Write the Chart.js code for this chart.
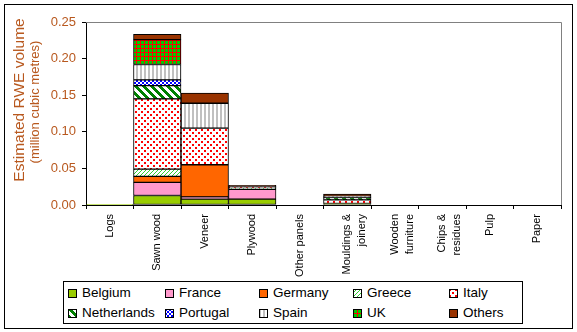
<!DOCTYPE html>
<html>
<head>
<meta charset="utf-8">
<script src="https://cdn.jsdelivr.net/npm/chart.js@4/dist/chart.umd.min.js"></script>
<style>
  html,body{margin:0;padding:0;background:#fff;}
  #wrap{position:relative;width:577px;height:332px;overflow:hidden;font-family:"Liberation Sans",Arial,sans-serif;}
  #c{position:absolute;left:0;top:0;}
  #frame{position:absolute;left:4px;top:4px;width:567px;height:323px;border:1px solid #000;pointer-events:none;}
  #legend{position:absolute;left:63px;top:281px;width:458px;height:41px;border:1px solid #000;background:#fff;}
  .li{position:absolute;font-size:13.5px;color:#000;line-height:16px;white-space:nowrap;}
  .li canvas{position:absolute;left:0;top:4px;}
  .li span{position:absolute;left:14px;top:0;}
</style>
</head>
<body>
<div id="wrap">
  <canvas id="c" width="577" height="332"></canvas>
  <div id="frame"></div>
  <div id="legend"></div>
</div>
<script>
const categories = ['Logs','Sawn wood','Veneer','Plywood','Other panels',['Mouldings &','joinery'],['Wooden','furniture'],['Chips &','residues'],'Pulp','Paper'];
const seriesNames = ['Belgium','France','Germany','Greece','Italy','Netherlands','Portugal','Spain','UK','Others'];
const belgium     = [0.001, 0.013, 0.008, 0.008,  0, 0.002, 0, 0, 0, 0];
const france      = [0,     0.018, 0.003, 0.0135, 0, 0,     0, 0, 0, 0];
const germany     = [0,     0.008, 0.044, 0,      0, 0,     0, 0, 0, 0];
const greece      = [0,     0.010, 0,     0.0015, 0, 0,     0, 0, 0, 0];
const italy       = [0,     0.096, 0.050, 0.001,  0, 0.005, 0, 0, 0, 0];
const netherlands = [0,     0.018, 0,     0,      0, 0.003, 0, 0, 0, 0];
const portugal    = [0,     0.008, 0,     0,      0, 0,     0, 0, 0, 0];
const spain       = [0,     0.021, 0.034, 0.001,  0, 0.002, 0, 0, 0, 0];
const uk          = [0,     0.034, 0,     0,      0, 0,     0, 0, 0, 0];
const others      = [0,     0.007, 0.014, 0.002,  0, 0.003, 0, 0, 0, 0];
const yTicks = [0, 0.05, 0.10, 0.15, 0.20, 0.25];

const seriesValues = [belgium, france, germany, greece, italy, netherlands, portugal, spain, uk, others];

function mk(w,h,draw){
  const c=document.createElement('canvas');c.width=w;c.height=h;
  const x=c.getContext('2d');draw(x);
  return x.createPattern(c,'repeat');
}
function fills(){
  return [
    '#99CC00',
    '#FF99CC',
    '#FF6600',
    mk(4,4,x=>{x.fillStyle='#fff';x.fillRect(0,0,4,4);x.fillStyle='#33CC33';
      for(let i=0;i<4;i++){x.fillRect(3-i,i,1,1);} }),
    mk(6,6,x=>{x.fillStyle='#fff';x.fillRect(0,0,6,6);x.fillStyle='#FF0000';
      x.fillRect(0,0,2,2);x.fillRect(3,3,2,2);}),
    mk(8,8,x=>{x.fillStyle='#fff';x.fillRect(0,0,8,8);x.fillStyle='#008000';
      for(let i=0;i<8;i++){for(let k=0;k<4;k++){x.fillRect((i+k)%8,i,1,1);}} }),
    mk(4,4,x=>{x.fillStyle='#fff';x.fillRect(0,0,4,4);x.fillStyle='#0000FF';
      x.fillRect(0,0,2,2);x.fillRect(2,2,2,2);}),
    mk(4,4,x=>{x.fillStyle='#fff';x.fillRect(0,0,4,4);x.fillStyle='#C0C0C0';
      x.fillRect(0,0,2,4);}),
    mk(4,4,x=>{x.fillStyle='#00CC00';x.fillRect(0,0,4,4);x.fillStyle='#FF0000';
      x.fillRect(0,0,4,1);x.fillRect(0,0,1,4);}),
    '#993300'
  ];
}
const F = fills();

const datasets = seriesNames.map((n,i)=>({
  label:n,
  data: seriesValues[i].map(v=>v===0?null:v),
  backgroundColor:F[i],
  borderColor:'#000',
  borderWidth:1,
  borderSkipped:false,
  barPercentage:1,
  categoryPercentage:1
}));

const txtColor='#B8581E';
const plotFrame={
  id:'plotFrame',
  afterDraw(chart){
    const {ctx,chartArea:a}=chart;
    ctx.save();
    ctx.strokeStyle='#808080';ctx.lineWidth=1;
    ctx.beginPath();
    ctx.moveTo(a.left,Math.round(a.top)+0.5);
    ctx.lineTo(Math.round(a.right)+0.5,Math.round(a.top)+0.5);
    ctx.lineTo(Math.round(a.right)+0.5,a.bottom);
    ctx.stroke();
    // y title
    ctx.fillStyle=txtColor;
    ctx.textAlign='center';ctx.textBaseline='middle';
    ctx.translate(20,100);ctx.rotate(-Math.PI/2);
    ctx.font='15.5px "Liberation Sans", Arial, sans-serif';
    ctx.fillText('Estimated RWE volume',0,0);
    ctx.font='13px "Liberation Sans", Arial, sans-serif';
    ctx.fillText('(million cubic metres)',-2,15);
    ctx.restore();
  }
};

new Chart(document.getElementById('c'),{
  type:'bar',
  data:{labels:categories,datasets},
  options:{
    responsive:false,
    animation:false,
    devicePixelRatio:1,
    layout:{padding:{left:0,top:22,right:16,bottom:0}},
    plugins:{legend:{display:false},tooltip:{enabled:false}},
    scales:{
      x:{
        stacked:true,
        grid:{offset:true,drawOnChartArea:false,tickLength:4,tickColor:'#000',color:'#000'},
        border:{color:'#000',width:1},
        ticks:{minRotation:90,maxRotation:90,autoSkip:false,padding:5,color:'#000',
          font:{family:'"Liberation Sans", Arial, sans-serif',size:11,lineHeight:1.35}},
        afterFit(s){s.height=127;}
      },
      y:{
        stacked:true,min:0,max:0.25,
        afterBuildTicks(s){s.ticks=yTicks.map(v=>({value:v}));},
        grid:{drawOnChartArea:false,tickLength:4,tickColor:'#000',color:'#000'},
        border:{color:'#000',width:1},
        ticks:{padding:6,color:txtColor,callback:v=>v.toFixed(2),
          font:{family:'"Liberation Sans", Arial, sans-serif',size:13}},
        afterFit(s){s.width=86;}
      }
    }
  },
  plugins:[plotFrame]
});

// HTML legend (5 columns x 2 rows)
const leg=document.getElementById('legend');
const colX=[4,101,195,289,385];
const rowY=[3,23];
seriesNames.forEach((n,i)=>{
  const d=document.createElement('div');d.className='li';
  d.style.left=colX[i%5]+'px';d.style.top=rowY[Math.floor(i/5)]+'px';
  const sw=document.createElement('canvas');sw.width=9;sw.height=9;
  const x=sw.getContext('2d');x.fillStyle=F[i];x.fillRect(0,0,9,9);
  x.strokeStyle='#000';x.lineWidth=1;x.strokeRect(0.5,0.5,8,8);
  const s=document.createElement('span');s.textContent=n;
  d.appendChild(sw);d.appendChild(s);leg.appendChild(d);
});
</script>
</body>
</html>
